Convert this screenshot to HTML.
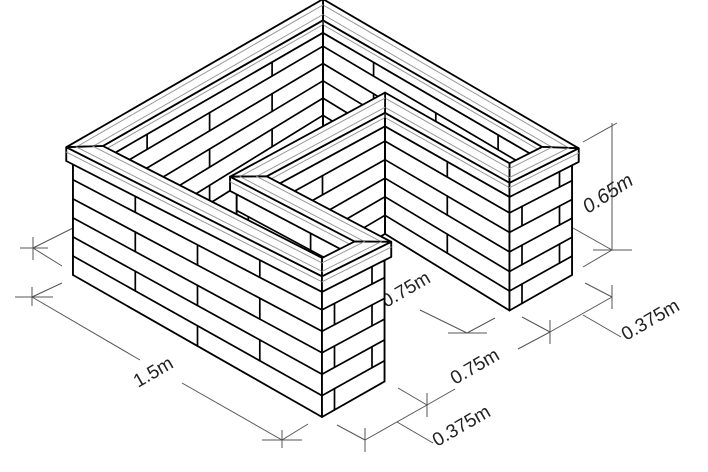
<!DOCTYPE html>
<html><head><meta charset="utf-8">
<style>
html,body{margin:0;padding:0;background:#fff;}
svg{display:block;}
text{font-family:"Liberation Sans",sans-serif;font-size:19px;fill:#222;}
</style></head>
<body>
<svg id="s" width="708" height="472" viewBox="0 0 708 472" xmlns="http://www.w3.org/2000/svg">
<rect width="708" height="472" fill="#fff"/>
<g stroke="#555" stroke-width="1" fill="none">
  <line x1="73" y1="228" x2="33" y2="248"/><line x1="33" y1="248" x2="62" y2="266"/>
  <line x1="33" y1="237" x2="33" y2="260"/><line x1="20" y1="248" x2="48" y2="248"/>
  <line x1="62" y1="283" x2="32" y2="297"/><line x1="32" y1="287" x2="32" y2="306"/>
  <line x1="15" y1="297" x2="53" y2="297"/>
  <line x1="32" y1="297" x2="140" y2="360"/><line x1="182" y1="383" x2="282" y2="440"/>
  <line x1="308" y1="424" x2="282" y2="440"/><line x1="262" y1="440" x2="302" y2="440"/>
  <line x1="282" y1="430" x2="282" y2="448"/>
  <line x1="337" y1="425" x2="365" y2="440"/><line x1="365" y1="428" x2="365" y2="452"/>
  <line x1="365" y1="440" x2="427" y2="405"/><line x1="398" y1="388" x2="427" y2="405"/>
  <line x1="427" y1="393" x2="427" y2="417"/>
  <line x1="427" y1="405" x2="455" y2="389"/><line x1="518" y1="349" x2="550" y2="332"/>
  <line x1="522" y1="317" x2="550" y2="332"/><line x1="550" y1="320" x2="550" y2="344"/>
  <line x1="550" y1="332" x2="612" y2="297"/><line x1="585" y1="283" x2="612" y2="297"/>
  <line x1="612" y1="285" x2="612" y2="309"/>
  <line x1="397" y1="422" x2="433" y2="443"/>
  <line x1="583" y1="315" x2="621" y2="337"/>
  <line x1="420" y1="310" x2="467" y2="333"/><line x1="448" y1="333" x2="487" y2="333"/>
  <line x1="467" y1="333" x2="495" y2="318"/>
  <line x1="583" y1="142" x2="617" y2="123"/><line x1="612" y1="123" x2="612" y2="250"/>
  <line x1="573" y1="228" x2="612" y2="250"/><line x1="593" y1="250" x2="632" y2="250"/>
  <line x1="583" y1="267" x2="612" y2="250"/>
</g>
<text transform="translate(138,388) rotate(-30)">1.5m</text>
<text transform="translate(455,385) rotate(-30)">0.75m</text>
<text transform="translate(437,447) rotate(-30)">0.375m</text>
<text transform="translate(626,341) rotate(-30)">0.375m</text>
<text transform="translate(386,308) rotate(-30)">0.75m</text>
<text transform="translate(588,214) rotate(-33)" font-style="italic" style="font-size:20px">0.65m</text>
<g id="b"></g>
</svg>
<script>
(function(){
var H=0.65,c=0.07,t=0.07,ov=0.02,BL=0.75;
function P(x,y,z){var u=x/1.5,v=y/1.5;var a=(1-u)*(1-v),b=u*(1-v),d=(1-u)*v,e=u*v;
var X=a*73+b*322+d*323+e*572;var Y=a*275+b*417+d*118+e*275;var h=a*128+b*144+d*115+e*127;
return [X,Y-h*z/H];}
var poly=[[0,0],[1.5,0],[1.5,0.375],[0.75,0.375],[0.75,1.125],[1.5,1.125],[1.5,1.5],[0,1.5]];
function nrm(a,b){var dx=b[0]-a[0],dy=b[1]-a[1],L=Math.hypot(dx,dy);return[-dy/L,dx/L];}
function off(p,d){var n=p.length,r=[];for(var i=0;i<n;i++){var a=p[(i-1+n)%n],b=p[i],cc=p[(i+1)%n];
var n1=nrm(a,b),n2=nrm(b,cc);var d1=a[0]*n1[0]+a[1]*n1[1]+d,d2=b[0]*n2[0]+b[1]*n2[1]+d;
var det=n1[0]*n2[1]-n1[1]*n2[0];r.push([(d1*n2[1]-d2*n1[1])/det,(n1[0]*d2-n2[0]*d1)/det]);}return r;}
var O=poly,I=off(poly,t),Oc=off(poly,-ov),Ic=off(poly,t+ov),Og=off(poly,-ov+0.03),Ig=off(poly,t+ov-0.03);
var out=[];
function pts(a){return a.map(function(p){return p[0].toFixed(1)+","+p[1].toFixed(1);}).join(" ");}
function area(a){var s=0;for(var i=0;i<a.length;i++){var p=a[i],q=a[(i+1)%a.length];s+=p[0]*q[1]-q[0]*p[1];}return s;}
function line(p,q,col,w){out.push('<line x1="'+p[0].toFixed(1)+'" y1="'+p[1].toFixed(1)+'" x2="'+q[0].toFixed(1)+'" y2="'+q[1].toFixed(1)+'" stroke="'+(col||"#000")+'" stroke-width="'+(w||1.7)+'" stroke-linecap="round"/>');}
function prism(q,z0,z1,bricks,grey){
 for(var j=0;j<4;j++){var A=q[j],B=q[(j+1)%4];
  var f=[P(A[0],A[1],z0),P(B[0],B[1],z0),P(B[0],B[1],z1),P(A[0],A[1],z1)];
  if(area(f)<0){out.push('<polygon points="'+pts(f)+'" fill="#fff" stroke="#000" stroke-width="1.8" stroke-linejoin="round"/>');
   if(bricks){var n=6,hh=(z1-z0)/n;for(var k=1;k<n;k++){var z=z0+k*hh;line(P(A[0],A[1],z),P(B[0],B[1],z));}
    var horiz=Math.abs(A[1]-B[1])<1e-6;var s0=horiz?A[0]:A[1],s1=horiz?B[0]:B[1];var lo=Math.min(s0,s1),hi=Math.max(s0,s1);
    var len=hi-lo;
    if(len>0.5){for(var k=0;k<n;k++){var offs=(k%2)*BL/2;for(var s=offs;s<1.6;s+=BL){if(s>lo+0.04&&s<hi-0.04){
      var pa=horiz?[s,A[1]]:[A[0],s];line(P(pa[0],pa[1],z0+k*hh),P(pa[0],pa[1],z0+(k+1)*hh));}}}}
    else if(len>0.15){for(var k=0;k<n;k++){var ww=(k%2==0)?0.2:0.8;var pa=[A[0]+(B[0]-A[0])*ww,A[1]+(B[1]-A[1])*ww];line(P(pa[0],pa[1],z0+k*hh),P(pa[0],pa[1],z0+(k+1)*hh));}}
    else {for(var k=0;k<n;k++){if(k%2==0){var ww=0.35;var pa=[A[0]+(B[0]-A[0])*ww,A[1]+(B[1]-A[1])*ww];line(P(pa[0],pa[1],z0+k*hh),P(pa[0],pa[1],z0+(k+1)*hh));}}}
   }
   if(grey){var zz=z1-(z1-z0)*0.35;line(P(A[0],A[1],zz),P(B[0],B[1],zz),"#999",1);}
  }}
 var top=q.map(function(p){return P(p[0],p[1],z1);});
 out.push('<polygon points="'+pts(top)+'" fill="#fff" stroke="#000" stroke-width="1.8" stroke-linejoin="round"/>');
}
var n=poly.length,segs=[];
for(var i=0;i<n;i++){var i2=(i+1)%n;var q=[O[i],O[i2],I[i2],I[i]];
 var mx=-9,cx=0;q.forEach(function(p){mx=Math.max(mx,p[0]-p[1]);cx+=(p[0]-p[1])/4;});
 segs.push({i:i,i2:i2,q:q,d:mx,c:cx});}
segs.sort(function(a,b){return (a.d-b.d)||(a.c-b.c);});
segs.forEach(function(s){
 prism(s.q,0,H-c,true,false);
 var qc=[Oc[s.i],Oc[s.i2],Ic[s.i2],Ic[s.i]];
 prism(qc,H-c,H,false,true);
 line(P(Og[s.i][0],Og[s.i][1],H),P(Og[s.i2][0],Og[s.i2][1],H),"#999",1);
 line(P(Ig[s.i][0],Ig[s.i][1],H),P(Ig[s.i2][0],Ig[s.i2][1],H),"#999",1);
});
document.getElementById("b").innerHTML=out.join("");
})();
</script>
</body></html>
